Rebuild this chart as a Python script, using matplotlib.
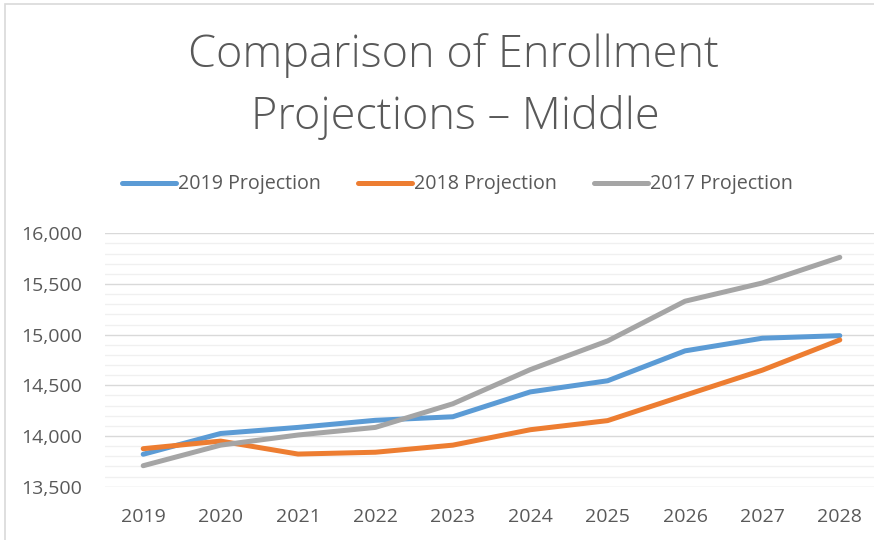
import matplotlib
matplotlib.use("Agg")
import matplotlib.pyplot as plt
from matplotlib.patches import Rectangle
from matplotlib.ticker import MultipleLocator, FuncFormatter

# ── Data ──────────────────────────────────────────────────────────────────────
YEARS = ["2019", "2020", "2021", "2022", "2023",
         "2024", "2025", "2026", "2027", "2028"]
PROJ_2019 = [13820, 14025, 14085, 14155, 14190, 14435, 14545, 14840, 14965, 14990]
PROJ_2018 = [13875, 13950, 13822, 13840, 13910, 14062, 14152, 14402, 14650, 14948]
PROJ_2017 = [13707, 13910, 14010, 14085, 14318, 14655, 14938, 15330, 15510, 15763]

SERIES = [
    ("2019 Projection", PROJ_2019, "#5B9BD5"),
    ("2018 Projection", PROJ_2018, "#ED7D31"),
    ("2017 Projection", PROJ_2017, "#A5A5A5"),
]

TEXT_COLOR = "#595959"
FONT = ["Open Sans", "DejaVu Sans"]

plt.rcParams["font.family"] = FONT

fig = plt.figure(figsize=(8.74, 5.40), dpi=100)

# chart frame (light border, cropped at right/bottom)
fig.patches.append(Rectangle((5 / 874, -0.1), 1.2, 1.1 - 4 / 540,
                             transform=fig.transFigure, fill=False,
                             edgecolor="#D9D9D9", linewidth=1.2))

ax = fig.add_axes([104.5 / 874, 53.3 / 540, 774 / 874, 253.4 / 540])

x = list(range(len(YEARS)))
for label, vals, color in SERIES:
    ax.plot(x, vals, color=color, linewidth=3.6, solid_capstyle="round",
            solid_joinstyle="round", label=label, zorder=3)

ax.set_xlim(-0.5, len(YEARS) - 0.5)
ax.set_ylim(13500, 16000)
ax.set_xticks(x)
ax.set_xticklabels(YEARS)
ax.yaxis.set_major_locator(MultipleLocator(500))
ax.yaxis.set_minor_locator(MultipleLocator(100))
ax.yaxis.set_major_formatter(FuncFormatter(lambda v, p: f"{v:,.0f}"))

ax.grid(which="major", axis="y", color="#D9D9D9", linewidth=1.0, zorder=0)
ax.grid(which="minor", axis="y", color="#F0F0F0", linewidth=1.0, zorder=0)
ax.set_axisbelow(True)

for s in ax.spines.values():
    s.set_visible(False)
ax.tick_params(axis="both", which="both", length=0, colors=TEXT_COLOR,
               labelsize=14)
ax.tick_params(axis="y", pad=16)
ax.tick_params(axis="x", pad=15.5)

fig.text(454 / 874, 1 - 56 / 540, "Comparison of Enrollment", ha="center",
         va="center", fontsize=32.5, color=TEXT_COLOR, fontweight="light")
fig.text(455 / 874, 1 - 117 / 540, "Projections \u2013 Middle", ha="center",
         va="center", fontsize=32.5, color=TEXT_COLOR, fontweight="light")

leg = fig.legend(loc="center", bbox_to_anchor=(457.5 / 874, 1 - 184.5 / 540),
                 ncol=3, frameon=False, fontsize=14.1, handlelength=2.75,
                 handletextpad=0.12, columnspacing=1.9)
for t in leg.get_texts():
    t.set_color(TEXT_COLOR)

fig.savefig("out.png", dpi=100)
